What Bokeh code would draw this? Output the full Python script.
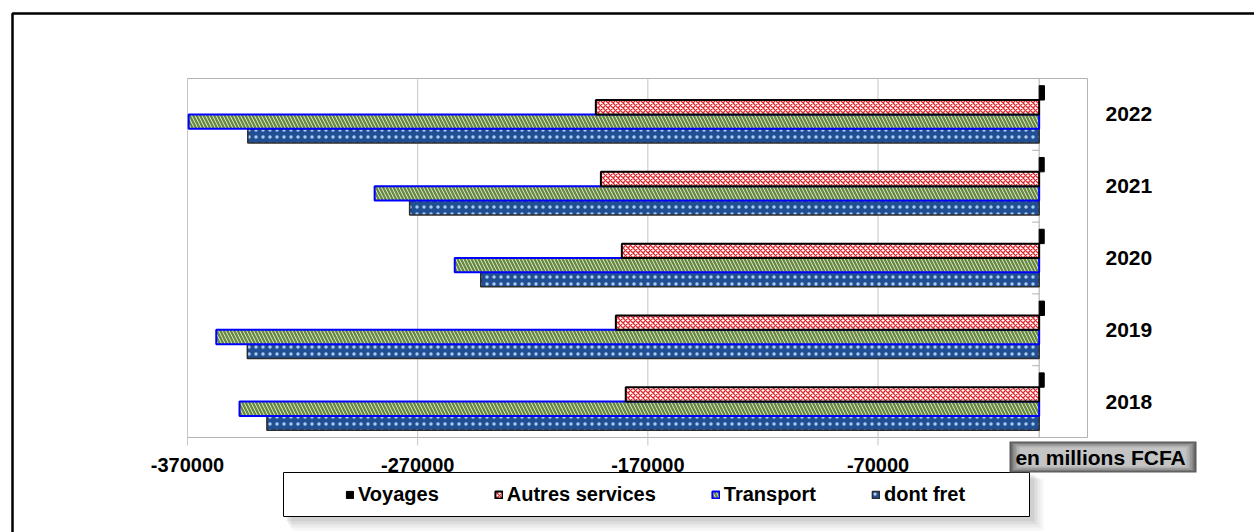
from bokeh.plotting import figure
from bokeh.models import (Range1d, Legend, LegendItem, BoxAnnotation, Label, ColumnDataSource)
from bokeh.transform import dodge
from bokeh.embed import file_html
from bokeh.resources import INLINE

# Services balance, in millions FCFA
years = ["2018", "2019", "2020", "2021", "2022"]
voyages = [2200, 2300, 2200, 2200, 2300]
autres_services = [-179600, -183900, -181300, -190400, -192600]
transport = [-347400, -357500, -253900, -288700, -369500]
dont_fret = [-335500, -344000, -242600, -273500, -343800]
x_ticks = [-370000, -270000, -170000, -70000]
x_limits = (-370000, 21000)
series_names = ["Voyages", "Autres services", "Transport", "dont fret"]
unit_label = "en millions  FCFA"

W, H = 1254, 532
PL, PR, PT, PB = 187, 1087, 78, 437      # plot-area edges on the canvas (px)

# The frame covers the whole canvas; the ranges are stretched so that the
# value axis spans exactly the plot area.
X0, X1 = x_limits
Y0, Y1 = -0.5, len(years) - 0.5
kx = (X1 - X0) / (PR - PL)
ky = (Y1 - Y0) / (PB - PT)
x_range = Range1d(X0 - PL * kx, X1 + (W - PR) * kx)
y_range = Range1d(Y0 - (H - PB) * ky, Y1 + PT * ky)


def cx(px):
    return x_range.start + px * kx


def cy(py):
    return y_range.end - py * ky


p = figure(width=W, height=H, x_range=x_range, y_range=y_range,
           x_axis_location=None, y_axis_location=None,
           output_backend="svg", toolbar_location=None,
           min_border=0, min_border_left=0, min_border_right=0,
           min_border_top=0, min_border_bottom=0)
p.background_fill_color = "white"
p.border_fill_color = "white"
p.outline_line_color = None
p.xgrid.visible = False
p.ygrid.visible = False

GRID = "#c6c6c6"
FONT = {"value": "Liberation Sans"}

src = ColumnDataSource(dict(pos=list(range(len(years))), year=years, voyages=voyages,
                            autres=autres_services, transport=transport, fret=dont_fret))
tick_src = ColumnDataSource(dict(x=x_ticks, label=[str(t) for t in x_ticks]))


def box(x0, y0, x1, y1, **kw):
    kw.setdefault("line_alpha", 1)
    return BoxAnnotation(left=cx(x0), right=cx(x1), top=cy(y0), bottom=cy(y1), **kw)


# outer chart border
p.add_layout(box(12, 13, W + 40, H + 40, fill_alpha=0, line_color="black",
                 line_width=2.5, level="underlay"))

# legend frame with its soft shadow (kept under the axis labels)
for d, a in [(14, 0.08), (11, 0.10), (8, 0.13), (5, 0.16)]:
    p.add_layout(box(283 + d * 0.6, 472 + d * 0.5, 1029 + d, 516 + d,
                     fill_color="#8a8a8a", fill_alpha=a, line_color=None, level="underlay"))
p.add_layout(box(283, 472, 1029, 516, fill_color="white", fill_alpha=1,
                 line_color="black", line_width=1, level="underlay"))

# vertical gridlines with their outer tick marks, and the plot-area border
p.segment(x0="x", x1="x", y0=Y0, y1=Y1, source=tick_src, line_color=GRID, line_width=1)
p.ray(x="x", y=Y0, length=8, length_units="screen", angle=-90, angle_units="deg",
      source=tick_src, line_color=GRID, line_width=1)
p.add_layout(BoxAnnotation(left=X0, right=X1, bottom=Y0, top=Y1, fill_alpha=0,
                           line_color="#b3b3b3", line_alpha=1, line_width=1,
                           level="underlay"))

# value-axis labels
p.text(x="x", y=Y0, text="label", source=tick_src, y_offset=27,
       text_align="center", text_baseline="middle",
       text_font=FONT, text_font_style="bold",
       text_font_size="20px", text_color="black")

# category axis at zero, tick marks between years, year labels on the right
p.segment(x0=0, x1=0, y0=Y0, y1=Y1, line_color="#a8a8a8", line_width=1)
p.ray(x=0, y=dodge("pos", 0.5), source=src, length=7, length_units="screen",
      angle=180, angle_units="deg", line_color="#b0b0b0", line_width=1)
p.text(x=X1, y="pos", text="year", source=src, x_offset=18,
       text_align="left", text_baseline="middle",
       text_font=FONT, text_font_style="bold",
       text_font_size="21px", text_color="black")

bh = 0.2
r_fret = p.hbar(y=dodge("pos", -0.3), left=0, right="fret", height=bh,
                source=src, fill_color="#214f93", hatch_pattern="dot",
                hatch_color="#a9cbee", hatch_scale=7, hatch_weight=5,
                line_color="#2b2b2b", line_width=1.5)
r_tr = p.hbar(y=dodge("pos", -0.1), left=0, right="transport", height=bh,
              source=src, fill_color="#f4f7ee", hatch_pattern="left_diagonal_line",
              hatch_color="#66893f", hatch_scale=7, hatch_weight=2.4,
              line_color="#0000ff", line_width=2)
r_aut = p.hbar(y=dodge("pos", 0.1), left=0, right="autres", height=bh,
               source=src, fill_color="white", hatch_pattern="diagonal_cross",
               hatch_color="#e2262e", hatch_scale=5, hatch_weight=1.3,
               line_color="black", line_width=2)
r_voy = p.hbar(y=dodge("pos", 0.3), left=0, right="voyages", height=bh,
               source=src, fill_color="black", line_color="black", line_width=1)

legend = Legend(items=[LegendItem(label=n, renderers=[r]) for n, r in
                       zip(series_names, [r_voy, r_aut, r_tr, r_fret])],
                orientation="horizontal", location=(345, H - 507),
                glyph_width=9, glyph_height=9, label_standoff=4, spacing=55,
                label_height=26, padding=0, margin=0, border_line_color=None,
                background_fill_alpha=0,
                label_text_font="Liberation Sans", label_text_font_style="bold",
                label_text_font_size="20px", label_text_color="black")
p.add_layout(legend)

# unit caption on a bevelled grey plate
for inset, shade in [(0, "#5a5a5a"), (2, "#787878"), (4, "#969696"), (7, "#b2b2b2"), (10, "#c4c4c4")]:
    p.add_layout(box(1009 + inset, 441 + inset * 0.6, 1196 - inset, 472 - inset * 0.6,
                     fill_color=shade, fill_alpha=1, line_color=None))
p.add_layout(Label(x=cx(1103), y=cy(457), text=unit_label,
                   text_align="center", text_baseline="middle",
                   text_font="Liberation Sans", text_font_style="bold",
                   text_font_size="21px", text_color="black"))

open("out.html", "w").write(file_html(p, INLINE))
